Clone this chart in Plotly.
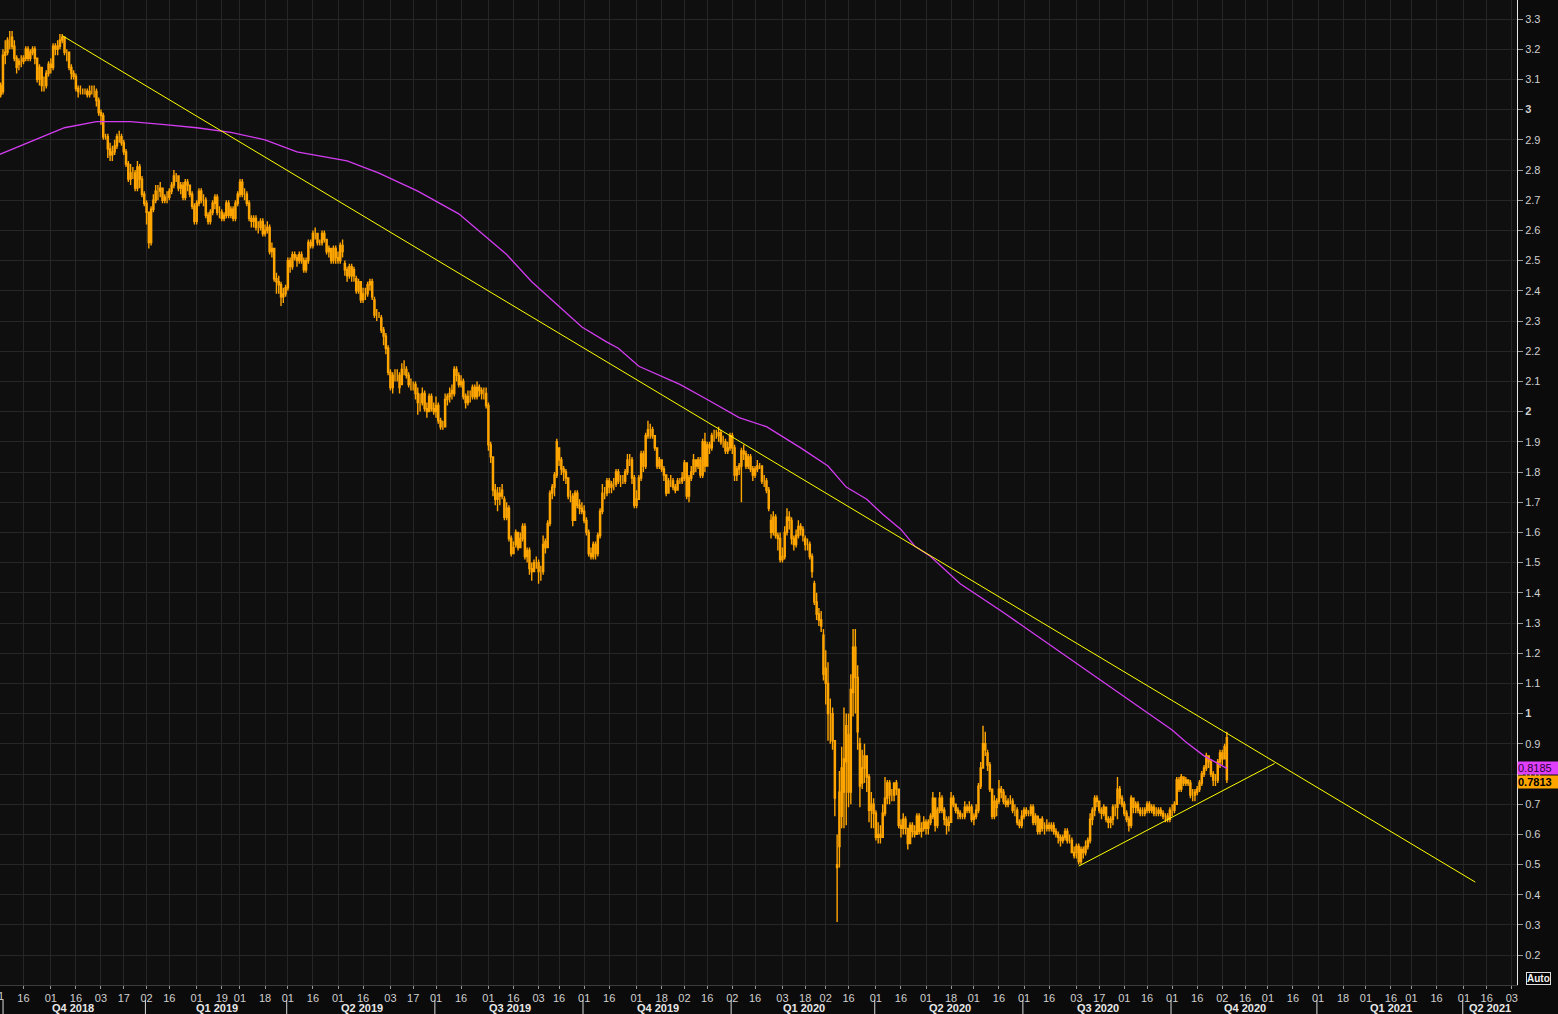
import pandas as pd
import plotly.graph_objects as go

# ---------------- calendar (slot axis: trading days, weekends removed) ----------------
AXIS_START = "2018-10-01"
AXIS_END = "2021-05-31"
HOLIDAYS = ["2018-12-25", "2019-01-01", "2019-02-18", "2019-09-02", "2019-12-25",
            "2020-01-01", "2020-02-17", "2020-09-07", "2020-11-26", "2020-12-25", "2021-04-02"]

# ---------------- daily OHLC, US 10Y yield (%), Oct 1 2018 .. Nov 4 2020 ----------------
opens = [
    3.05,3.08,3.06,3.18,3.19,3.23,3.24,3.21,3.17,3.15,3.16,3.16,3.17,3.20,3.17,3.19,3.20,3.17,3.10,3.14,3.08,3.08,3.12,
    3.15,3.14,3.21,3.20,3.21,3.23,3.24,3.19,3.19,3.14,3.12,3.11,3.07,3.06,3.06,3.06,3.06,3.05,3.06,3.06,3.06,3.03,
    2.99,2.98,2.91,2.91,2.87,2.85,2.86,2.88,2.91,2.91,2.89,2.86,2.82,2.77,2.79,2.79,2.74,2.81,2.77,2.72,
    2.69,2.66,2.56,2.67,2.70,2.73,2.73,2.74,2.70,2.71,2.71,2.73,2.75,2.78,2.78,2.74,2.75,2.71,2.76,2.75,2.72,2.68,
    2.63,2.69,2.73,2.70,2.70,2.65,2.63,2.66,2.69,2.71,2.66,2.66,2.64,2.65,2.69,2.65,2.67,2.64,2.69,
    2.72,2.76,2.72,2.72,2.69,2.64,2.63,2.64,2.61,2.61,2.63,2.59,2.60,2.61,2.53,2.54,2.44,2.43,2.42,2.38,2.39,
    2.41,2.50,2.48,2.52,2.51,2.50,2.52,2.50,2.47,2.50,2.56,2.55,2.59,2.59,2.56,2.56,2.59,2.57,2.53,2.54,2.50,2.54,
    2.51,2.50,2.55,2.49,2.47,2.45,2.48,2.45,2.44,2.40,2.43,2.37,2.39,2.39,2.42,2.43,2.37,2.32,2.32,2.31,2.27,2.25,2.21,
    2.13,2.08,2.12,2.12,2.12,2.09,2.14,2.14,2.12,2.09,2.09,2.09,2.06,2.03,2.03,2.06,2.01,2.00,2.05,2.01,
    2.00,2.02,1.97,1.95,1.95,2.04,2.05,2.07,2.06,2.14,2.12,2.09,2.10,2.05,2.03,2.05,2.05,2.08,2.05,2.08,2.07,2.06,2.06,
    2.02,1.89,1.85,1.74,1.71,1.73,1.72,1.71,1.65,1.68,1.58,1.53,1.56,1.60,1.55,1.58,1.62,1.52,1.54,1.48,1.47,1.50,
    1.50,1.47,1.47,1.57,1.55,1.63,1.73,1.75,1.79,1.88,1.84,1.81,1.80,1.78,1.72,1.72,1.64,1.73,1.69,1.68,
    1.67,1.64,1.60,1.53,1.52,1.56,1.53,1.59,1.67,1.73,1.73,1.77,1.75,1.76,1.76,1.80,1.77,1.77,1.77,1.80,1.84,1.84,1.78,
    1.69,1.71,1.78,1.86,1.82,1.92,1.94,1.94,1.92,1.88,1.82,1.84,1.81,1.79,1.73,1.77,1.77,1.75,1.74,1.77,1.77,
    1.78,1.83,1.72,1.78,1.80,1.84,1.82,1.84,1.79,1.90,1.82,1.89,1.88,1.92,1.92,1.92,1.93,1.90,1.90,1.87,1.88,
    1.92,1.88,1.79,1.81,1.82,1.87,1.86,1.82,1.85,1.81,1.79,1.81,1.82,1.82,1.77,1.77,1.74,1.64,1.60,1.65,1.59,1.58,
    1.51,1.52,1.60,1.65,1.64,1.58,1.56,1.59,1.62,1.61,1.58,1.56,1.56,1.52,1.43,1.37,1.33,1.31,1.26,
    1.15,1.10,1.00,1.00,0.91,0.50,0.56,0.66,0.74,0.84,0.93,0.74,1.07,1.22,1.12,0.90,0.77,0.82,0.86,0.79,0.68,0.70,
    0.67,0.59,0.60,0.59,0.67,0.72,0.77,0.73,0.73,0.77,0.75,0.63,0.62,0.65,0.62,0.57,0.63,0.61,0.60,0.66,0.61,0.62,
    0.64,0.62,0.64,0.66,0.72,0.63,0.68,0.72,0.68,0.65,0.63,0.64,0.72,0.70,0.68,0.67,0.66,0.66,0.69,0.68,0.69,
    0.65,0.66,0.68,0.76,0.82,0.90,0.87,0.83,0.75,0.66,0.69,0.71,0.75,0.74,0.71,0.70,0.71,0.71,0.68,0.68,0.64,0.63,
    0.66,0.68,0.67,0.67,0.69,0.64,0.66,0.61,0.65,0.62,0.62,0.63,0.62,0.63,0.61,0.60,0.59,0.58,0.59,0.61,0.58,0.58,0.54,
    0.54,0.56,0.51,0.55,0.54,0.56,0.58,0.65,0.68,0.72,0.71,0.68,0.67,0.69,0.65,0.64,0.65,0.69,0.69,0.75,0.72,
    0.70,0.67,0.65,0.63,0.72,0.69,0.70,0.68,0.67,0.67,0.68,0.70,0.68,0.69,0.67,0.67,0.68,0.67,0.66,0.66,0.65,
    0.68,0.68,0.70,0.78,0.75,0.79,0.77,0.78,0.77,0.73,0.73,0.74,0.75,0.77,0.80,0.82,0.86,0.84,0.80,0.78,0.78,0.84,
    0.87,0.85,0.92,
]
highs = [
    3.09,3.09,3.20,3.23,3.24,3.26,3.26,3.23,3.18,3.17,3.18,3.18,3.21,3.21,3.20,3.21,3.21,3.17,3.15,3.14,3.11,3.13,3.16,
    3.17,3.22,3.22,3.23,3.25,3.25,3.24,3.20,3.19,3.15,3.13,3.12,3.08,3.08,3.07,3.07,3.07,3.08,3.08,3.08,3.07,3.04,
    3.00,2.99,2.92,2.92,2.89,2.88,2.90,2.92,2.93,2.92,2.90,2.87,2.83,2.82,2.81,2.80,2.83,2.82,2.78,2.73,
    2.70,2.66,2.68,2.72,2.75,2.75,2.76,2.74,2.72,2.73,2.74,2.76,2.80,2.79,2.78,2.76,2.76,2.77,2.77,2.75,2.73,2.69,
    2.70,2.74,2.74,2.72,2.71,2.66,2.67,2.70,2.72,2.72,2.68,2.67,2.66,2.70,2.70,2.68,2.68,2.70,2.73,
    2.77,2.77,2.74,2.73,2.70,2.65,2.65,2.65,2.63,2.64,2.64,2.62,2.63,2.62,2.56,2.54,2.46,2.45,2.43,2.41,2.42,
    2.51,2.51,2.53,2.53,2.52,2.53,2.53,2.51,2.51,2.57,2.57,2.60,2.61,2.59,2.57,2.60,2.60,2.57,2.55,2.54,2.55,2.55,
    2.53,2.56,2.57,2.50,2.48,2.49,2.49,2.48,2.45,2.44,2.43,2.41,2.41,2.43,2.44,2.44,2.38,2.34,2.33,2.32,2.28,2.26,2.22,
    2.14,2.13,2.14,2.14,2.13,2.16,2.17,2.15,2.13,2.11,2.10,2.10,2.08,2.06,2.08,2.07,2.03,2.06,2.06,2.03,
    2.05,2.03,1.98,1.97,2.06,2.06,2.08,2.09,2.15,2.15,2.13,2.12,2.11,2.06,2.07,2.07,2.09,2.09,2.10,2.09,2.08,2.08,2.08,
    2.03,1.90,1.85,1.76,1.75,1.75,1.76,1.72,1.70,1.69,1.59,1.57,1.61,1.60,1.60,1.63,1.63,1.55,1.55,1.50,1.51,1.52,
    1.51,1.49,1.59,1.58,1.64,1.74,1.76,1.80,1.91,1.88,1.85,1.82,1.81,1.78,1.74,1.73,1.74,1.74,1.71,1.70,
    1.69,1.65,1.61,1.55,1.57,1.57,1.60,1.68,1.76,1.75,1.78,1.78,1.77,1.78,1.81,1.81,1.79,1.79,1.81,1.86,1.86,1.85,1.79,
    1.74,1.79,1.87,1.87,1.93,1.97,1.96,1.95,1.92,1.88,1.85,1.84,1.82,1.79,1.78,1.79,1.78,1.76,1.78,1.78,1.80,
    1.84,1.83,1.79,1.82,1.86,1.84,1.85,1.85,1.91,1.93,1.90,1.90,1.93,1.94,1.94,1.95,1.94,1.92,1.91,1.90,1.93,
    1.93,1.89,1.82,1.83,1.88,1.89,1.87,1.86,1.86,1.82,1.82,1.84,1.83,1.82,1.79,1.78,1.75,1.66,1.67,1.66,1.60,1.60,
    1.55,1.62,1.68,1.67,1.65,1.59,1.61,1.64,1.63,1.62,1.59,1.58,1.57,1.53,1.44,1.40,1.35,1.34,1.28,
    1.21,1.17,1.05,1.02,0.91,0.60,0.81,0.89,1.02,1.00,1.00,1.13,1.28,1.28,1.16,0.92,0.88,0.90,0.86,0.80,0.74,0.72,
    0.68,0.64,0.63,0.70,0.79,0.78,0.78,0.75,0.77,0.78,0.75,0.65,0.67,0.66,0.62,0.64,0.64,0.63,0.67,0.67,0.64,0.66,
    0.65,0.65,0.67,0.74,0.72,0.69,0.74,0.73,0.69,0.66,0.66,0.74,0.73,0.70,0.69,0.68,0.67,0.71,0.70,0.71,0.70,
    0.67,0.70,0.77,0.84,0.96,0.94,0.88,0.84,0.75,0.73,0.72,0.78,0.76,0.75,0.73,0.72,0.73,0.72,0.70,0.69,0.65,0.68,
    0.69,0.69,0.68,0.70,0.70,0.67,0.66,0.65,0.66,0.64,0.65,0.64,0.64,0.64,0.62,0.61,0.60,0.60,0.62,0.62,0.60,0.59,0.56,
    0.57,0.57,0.56,0.56,0.58,0.59,0.67,0.69,0.73,0.73,0.71,0.69,0.70,0.69,0.66,0.66,0.70,0.70,0.79,0.76,0.73,
    0.71,0.68,0.66,0.73,0.72,0.71,0.71,0.69,0.69,0.69,0.71,0.71,0.70,0.70,0.69,0.69,0.69,0.68,0.67,0.67,0.69,
    0.70,0.71,0.79,0.79,0.80,0.79,0.79,0.78,0.78,0.75,0.75,0.76,0.78,0.81,0.83,0.87,0.86,0.85,0.81,0.80,0.85,0.88,
    0.88,0.90,0.94,
]
lows = [
    3.03,3.04,3.05,3.15,3.18,3.20,3.20,3.16,3.12,3.13,3.14,3.15,3.16,3.16,3.16,3.18,3.15,3.09,3.08,3.06,3.06,3.07,3.11,
    3.12,3.13,3.18,3.18,3.20,3.22,3.18,3.16,3.13,3.10,3.10,3.06,3.04,3.05,3.05,3.05,3.04,3.04,3.05,3.04,3.01,2.98,
    2.95,2.90,2.90,2.84,2.83,2.83,2.85,2.87,2.89,2.88,2.85,2.81,2.76,2.75,2.77,2.73,2.73,2.74,2.71,2.68,
    2.62,2.54,2.55,2.66,2.69,2.70,2.71,2.69,2.69,2.69,2.70,2.72,2.74,2.76,2.73,2.72,2.70,2.70,2.73,2.71,2.67,2.62,
    2.62,2.68,2.69,2.68,2.64,2.62,2.62,2.65,2.67,2.65,2.64,2.63,2.63,2.64,2.64,2.64,2.63,2.63,2.68,
    2.71,2.71,2.70,2.68,2.63,2.61,2.61,2.60,2.59,2.60,2.58,2.58,2.59,2.52,2.51,2.43,2.39,2.39,2.35,2.36,2.38,
    2.40,2.46,2.47,2.50,2.48,2.49,2.49,2.46,2.46,2.49,2.54,2.54,2.57,2.55,2.55,2.55,2.56,2.52,2.51,2.49,2.49,2.49,
    2.49,2.49,2.51,2.45,2.43,2.44,2.43,2.43,2.39,2.39,2.36,2.36,2.37,2.38,2.40,2.37,2.31,2.30,2.31,2.26,2.22,2.19,2.12,
    2.07,2.06,2.10,2.10,2.06,2.09,2.12,2.11,2.08,2.07,2.07,2.04,1.99,2.00,2.02,2.00,1.98,2.00,2.00,1.99,
    1.98,1.96,1.94,1.94,1.95,2.02,2.03,2.04,2.05,2.10,2.08,2.08,2.04,2.01,2.02,2.03,2.04,2.04,2.04,2.05,2.04,2.04,2.01,
    1.87,1.83,1.72,1.69,1.67,1.69,1.71,1.64,1.64,1.57,1.52,1.53,1.55,1.54,1.55,1.57,1.51,1.50,1.46,1.44,1.47,1.48,
    1.43,1.44,1.46,1.53,1.55,1.62,1.71,1.72,1.78,1.82,1.79,1.77,1.76,1.71,1.70,1.62,1.64,1.68,1.66,1.66,
    1.63,1.59,1.52,1.51,1.51,1.51,1.52,1.58,1.66,1.71,1.72,1.73,1.73,1.74,1.75,1.76,1.75,1.76,1.76,1.79,1.82,1.76,1.68,
    1.68,1.71,1.77,1.80,1.81,1.91,1.91,1.91,1.87,1.81,1.81,1.80,1.77,1.72,1.73,1.75,1.74,1.73,1.74,1.76,1.76,
    1.77,1.71,1.70,1.77,1.79,1.80,1.81,1.78,1.78,1.80,1.82,1.86,1.87,1.90,1.91,1.90,1.89,1.88,1.86,1.86,1.87,
    1.86,1.77,1.77,1.79,1.70,1.84,1.81,1.81,1.80,1.77,1.78,1.80,1.81,1.76,1.75,1.73,1.67,1.58,1.59,1.58,1.54,1.50,
    1.50,1.51,1.59,1.61,1.56,1.54,1.55,1.58,1.59,1.57,1.54,1.54,1.51,1.45,1.36,1.31,1.29,1.27,1.11,
    1.03,0.91,0.90,0.88,0.66,0.31,0.49,0.62,0.62,0.63,0.69,0.70,0.99,1.00,0.88,0.69,0.75,0.77,0.74,0.64,0.62,0.62,
    0.58,0.57,0.57,0.59,0.66,0.70,0.70,0.71,0.71,0.73,0.62,0.59,0.60,0.60,0.55,0.57,0.59,0.59,0.60,0.60,0.59,0.61,
    0.60,0.60,0.63,0.65,0.61,0.62,0.67,0.67,0.63,0.60,0.61,0.64,0.69,0.67,0.65,0.65,0.65,0.65,0.67,0.67,0.64,
    0.63,0.65,0.67,0.75,0.82,0.86,0.81,0.74,0.65,0.65,0.66,0.70,0.72,0.70,0.69,0.69,0.70,0.67,0.66,0.63,0.62,0.62,
    0.65,0.66,0.66,0.66,0.63,0.63,0.60,0.60,0.61,0.60,0.61,0.61,0.61,0.60,0.59,0.57,0.56,0.57,0.58,0.57,0.57,0.54,0.52,
    0.52,0.50,0.50,0.52,0.53,0.55,0.57,0.63,0.66,0.69,0.67,0.65,0.66,0.64,0.62,0.62,0.63,0.66,0.65,0.70,0.69,
    0.66,0.64,0.61,0.62,0.67,0.67,0.67,0.66,0.66,0.66,0.67,0.67,0.67,0.66,0.66,0.66,0.66,0.65,0.64,0.64,0.64,
    0.66,0.67,0.70,0.74,0.74,0.76,0.76,0.76,0.72,0.71,0.71,0.73,0.74,0.76,0.79,0.81,0.82,0.79,0.76,0.76,0.77,0.82,
    0.83,0.85,0.77,
]
closes = [
    3.06,3.05,3.18,3.19,3.23,3.23,3.21,3.17,3.14,3.16,3.16,3.17,3.20,3.17,3.19,3.20,3.17,3.10,3.14,3.08,3.08,3.12,3.15,
    3.14,3.21,3.20,3.21,3.23,3.24,3.19,3.19,3.14,3.12,3.11,3.07,3.06,3.06,3.06,3.06,3.05,3.06,3.06,3.06,3.03,2.99,
    2.98,2.91,2.91,2.87,2.85,2.86,2.88,2.91,2.91,2.89,2.86,2.82,2.77,2.79,2.79,2.74,2.81,2.77,2.72,2.69,
    2.66,2.56,2.67,2.70,2.73,2.73,2.74,2.70,2.71,2.71,2.73,2.75,2.78,2.78,2.74,2.75,2.71,2.76,2.75,2.72,2.68,2.63,
    2.69,2.73,2.70,2.70,2.65,2.63,2.66,2.69,2.71,2.66,2.66,2.64,2.65,2.69,2.65,2.67,2.64,2.69,2.72,
    2.76,2.72,2.72,2.69,2.64,2.63,2.64,2.61,2.61,2.63,2.59,2.60,2.61,2.53,2.54,2.44,2.43,2.42,2.38,2.39,2.41,
    2.50,2.48,2.52,2.51,2.50,2.52,2.50,2.47,2.50,2.56,2.55,2.59,2.59,2.56,2.56,2.59,2.57,2.53,2.54,2.50,2.54,2.51,
    2.50,2.55,2.53,2.47,2.45,2.48,2.45,2.47,2.40,2.43,2.37,2.39,2.39,2.42,2.43,2.38,2.32,2.32,2.32,2.27,2.25,2.21,2.13,
    2.08,2.12,2.12,2.12,2.08,2.14,2.14,2.12,2.09,2.09,2.09,2.06,2.03,2.03,2.06,2.01,2.00,2.05,2.01,2.00,
    2.02,1.97,1.95,1.95,2.04,2.05,2.06,2.06,2.14,2.12,2.09,2.10,2.05,2.03,2.05,2.05,2.08,2.05,2.08,2.07,2.06,2.06,2.02,
    1.89,1.85,1.74,1.71,1.73,1.72,1.74,1.65,1.68,1.58,1.53,1.55,1.60,1.55,1.58,1.62,1.52,1.54,1.48,1.47,1.50,1.50,
    1.47,1.47,1.56,1.55,1.63,1.73,1.75,1.79,1.90,1.84,1.81,1.80,1.78,1.72,1.72,1.64,1.73,1.69,1.68,1.67,
    1.64,1.60,1.53,1.52,1.56,1.53,1.59,1.67,1.73,1.73,1.77,1.75,1.76,1.76,1.80,1.77,1.77,1.77,1.80,1.84,1.84,1.78,1.69,
    1.71,1.78,1.86,1.82,1.92,1.94,1.94,1.92,1.88,1.82,1.84,1.81,1.79,1.73,1.77,1.77,1.75,1.74,1.77,1.77,1.78,
    1.83,1.72,1.78,1.80,1.84,1.82,1.84,1.79,1.90,1.82,1.89,1.88,1.92,1.92,1.92,1.93,1.90,1.90,1.87,1.88,1.92,
    1.88,1.79,1.81,1.82,1.87,1.86,1.82,1.85,1.81,1.79,1.81,1.82,1.82,1.77,1.77,1.74,1.68,1.60,1.65,1.59,1.58,1.51,
    1.52,1.60,1.65,1.64,1.58,1.56,1.59,1.62,1.61,1.59,1.56,1.56,1.52,1.47,1.37,1.33,1.31,1.29,1.13,
    1.10,1.00,1.00,0.91,0.72,0.49,0.74,0.82,0.85,0.96,0.74,1.08,1.22,1.12,0.94,0.76,0.82,0.86,0.79,0.68,0.70,0.67,
    0.59,0.60,0.59,0.67,0.72,0.77,0.73,0.73,0.77,0.75,0.63,0.62,0.65,0.62,0.57,0.63,0.61,0.60,0.66,0.61,0.62,0.64,
    0.62,0.64,0.66,0.72,0.63,0.68,0.72,0.68,0.65,0.63,0.64,0.72,0.70,0.68,0.67,0.66,0.66,0.69,0.68,0.69,0.65,
    0.66,0.68,0.76,0.82,0.90,0.88,0.83,0.75,0.66,0.71,0.71,0.75,0.74,0.71,0.70,0.71,0.71,0.68,0.68,0.64,0.63,0.66,
    0.68,0.67,0.67,0.69,0.64,0.66,0.61,0.65,0.62,0.62,0.63,0.62,0.63,0.61,0.60,0.59,0.58,0.59,0.61,0.58,0.58,0.54,0.53,
    0.56,0.51,0.55,0.54,0.56,0.58,0.65,0.68,0.72,0.71,0.68,0.67,0.69,0.65,0.64,0.65,0.69,0.69,0.75,0.72,0.70,
    0.67,0.65,0.63,0.72,0.69,0.70,0.68,0.67,0.67,0.68,0.70,0.68,0.69,0.67,0.67,0.68,0.67,0.66,0.66,0.65,0.68,
    0.68,0.70,0.78,0.75,0.79,0.77,0.78,0.77,0.73,0.73,0.74,0.75,0.77,0.80,0.82,0.86,0.84,0.80,0.78,0.78,0.84,0.87,
    0.85,0.89,0.7813,
]

# ---------------- 200-day moving average ----------------
ma_dates = ["2018-10-01", "2018-10-18", "2018-11-09", "2018-11-29", "2018-12-20", "2019-01-14",
            "2019-02-01", "2019-02-25", "2019-03-18", "2019-04-05", "2019-05-07", "2019-05-27",
            "2019-06-19", "2019-07-15", "2019-07-30", "2019-08-13", "2019-08-28", "2019-09-16",
            "2019-09-30", "2019-10-15", "2019-10-22", "2019-11-04", "2019-11-28", "2019-12-16",
            "2020-01-07", "2020-01-23", "2020-02-13", "2020-03-03", "2020-03-13", "2020-03-26",
            "2020-04-06", "2020-04-16", "2020-04-24", "2020-05-05", "2020-05-22", "2020-06-17",
            "2020-07-17", "2020-08-18", "2020-09-03", "2020-09-17", "2020-10-01", "2020-10-09",
            "2020-10-21", "2020-11-04"]
ma_values = [2.85, 2.89, 2.94, 2.96, 2.96, 2.95,
             2.94, 2.925, 2.90, 2.86, 2.83, 2.79,
             2.73, 2.655, 2.585, 2.52, 2.43, 2.35,
             2.28, 2.23, 2.21, 2.15, 2.09, 2.04,
             1.98, 1.95, 1.88, 1.82, 1.75, 1.71,
             1.66, 1.61, 1.555, 1.52, 1.43, 1.34,
             1.225, 1.11, 1.045, 1.00, 0.946, 0.906,
             0.86, 0.8185]

# ---------------- trend lines ----------------
trend_down_dates = ["2018-11-08", "2021-04-09"]
trend_down_values = [3.245, 0.442]
trend_up_dates = ["2020-08-04", "2020-12-04"]
trend_up_values = [0.495, 0.835]

last_price = 0.7813
last_ma = 0.8185

# ---------------- build slot axis ----------------
days = pd.bdate_range(AXIS_START, AXIS_END)
days = days[~days.isin(pd.to_datetime(HOLIDAYS))]


def slot(d):
    return int(days.searchsorted(pd.Timestamp(d)))


n = min(len(opens), len(highs), len(lows), len(closes))
xb = list(range(n))

XMIN, XMAX = 0.70, 666.3
YMIN, YMAX = 0.1013, 3.363


def xp(i):
    return (i - XMIN) / (XMAX - XMIN)


ORANGE = "#ffa500"
MAGENTA = "#d23cf0"
YELLOW = "#ffff00"
GRID = "#262626"
FONT = "Liberation Sans, Arial, sans-serif"

fig = go.Figure()

fig.add_trace(go.Candlestick(
    x=xb, open=opens[:n], high=highs[:n], low=lows[:n], close=closes[:n],
    increasing=dict(line=dict(color=ORANGE, width=1.4), fillcolor="rgba(0,0,0,0)"),
    decreasing=dict(line=dict(color=ORANGE, width=1.4), fillcolor=ORANGE),
    whiskerwidth=0, hoverinfo="skip", showlegend=False,
))

fig.add_trace(go.Scatter(
    x=[slot(d) for d in ma_dates], y=ma_values, mode="lines",
    line=dict(color=MAGENTA, width=1.3), hoverinfo="skip", showlegend=False,
))

fig.add_trace(go.Scatter(
    x=[slot(d) for d in trend_down_dates], y=trend_down_values, mode="lines",
    line=dict(color=YELLOW, width=1), hoverinfo="skip", showlegend=False,
))
fig.add_trace(go.Scatter(
    x=[slot(d) for d in trend_up_dates], y=trend_up_values, mode="lines",
    line=dict(color=YELLOW, width=1), hoverinfo="skip", showlegend=False,
))

# x ticks: first slot on/after the 1st and the 16th of each month
tickvals, ticktext = [], []
for m in pd.date_range("2018-10-01", "2021-05-01", freq="MS"):
    for dd in (1, 16):
        i = slot(m + pd.Timedelta(days=dd - 1))
        if i <= XMAX and (not tickvals or i != tickvals[-1]):
            tickvals.append(i)
            ticktext.append(f"{days[i].day:02d}")

# y ticks
yvals = [round(0.2 + 0.1 * k, 1) for k in range(32)]
ytext = [f"<b>{int(v)}</b>" if abs(v - round(v)) < 1e-9 else f"{v:g}" for v in yvals]

shapes = []
annotations = []
H = 985.0
quarters = list(pd.date_range("2018-10-01", "2021-04-01", freq="QS"))
for k, q in enumerate(quarters):
    s = slot(q)
    e = slot(quarters[k + 1]) if k + 1 < len(quarters) else XMAX
    e = min(e, XMAX)
    if k > 0:
        shapes.append(dict(type="line", xref="paper", yref="paper",
                           x0=xp(s - 0.5), x1=xp(s - 0.5), y0=-15 / H, y1=-29 / H,
                           line=dict(color="#d8d8d8", width=1)))
    cx = (max(s, XMIN) + e) / 2
    annotations.append(dict(xref="paper", yref="paper", x=xp(cx), y=-23 / H,
                            text=f"<b>Q{q.quarter} {q.year}</b>", showarrow=False,
                            font=dict(family=FONT, size=11, color="#e8e8e8"),
                            xanchor="center", yanchor="middle"))
shapes.append(dict(type="line", xref="paper", yref="paper", x0=0.002, x1=0.002,
                   y0=-15 / H, y1=-29 / H, line=dict(color="#d8d8d8", width=1)))

# the first day label ("01" of Oct 2018) sits on the left edge, half cut
first_tick = slot(AXIS_START)
annotations.append(dict(xref="paper", yref="paper", x=xp(first_tick), y=-11 / H,
                        text=f"{days[first_tick].day:02d}", showarrow=False,
                        xanchor="center", yanchor="middle",
                        font=dict(family=FONT, size=11, color="#d0d0d0")))

annotations.append(dict(xref="paper", yref="y", x=1.0, y=last_ma, text="0.8185",
                        showarrow=False, xanchor="left", yanchor="middle", align="left",
                        bgcolor="#e040fb", borderpad=0, width=41, height=12,
                        font=dict(family=FONT, size=11, color="#2b0036")))
annotations.append(dict(xref="paper", yref="y", x=1.0, y=last_price, text="<b>0.7813</b>",
                        showarrow=False, xanchor="left", yanchor="middle", align="left",
                        bgcolor=ORANGE, borderpad=0, width=41, height=12, yshift=-2,
                        font=dict(family=FONT, size=11, color="#000000")))
annotations.append(dict(xref="paper", yref="paper", x=1538 / 1517, y=(H - 978) / H,
                        text="<b>Auto</b>", showarrow=False, xanchor="center", yanchor="middle",
                        bordercolor="#e0e0e0", borderwidth=1, borderpad=0, bgcolor="#000000",
                        font=dict(family=FONT, size=10, color="#f0f0f0")))

fig.update_layout(
    width=1558, height=1014, autosize=False,
    margin=dict(l=0, r=41, t=0, b=29, pad=0),
    paper_bgcolor="#0b0b0b", plot_bgcolor="#0f0f0f",
    font=dict(family=FONT, size=11, color="#d0d0d0"),
    showlegend=False,
    shapes=shapes, annotations=annotations,
    xaxis=dict(range=[XMIN, XMAX], tickmode="array", tickvals=tickvals, ticktext=ticktext,
               showgrid=True, gridcolor=GRID, gridwidth=1, zeroline=False,
               showline=True, linecolor="#3c3c3c", linewidth=1,
               ticks="outside", ticklen=3, tickcolor="#9a9a9a",
               tickfont=dict(family=FONT, size=11, color="#d0d0d0"),
               rangeslider=dict(visible=False), fixedrange=True),
    yaxis=dict(range=[YMIN, YMAX], side="right", tickmode="array", tickvals=yvals, ticktext=ytext,
               showgrid=True, gridcolor=GRID, gridwidth=1, zeroline=False,
               showline=True, linecolor="#e8e8e8", linewidth=1,
               ticks="outside", ticklen=5, tickcolor="#9a9a9a",
               tickfont=dict(family=FONT, size=11, color="#d0d0d0"), fixedrange=True),
)

fig.write_html("out.html", config={"displayModeBar": False, "staticPlot": True},
               post_script="document.body.style.margin='0';document.body.style.overflow='hidden';")
